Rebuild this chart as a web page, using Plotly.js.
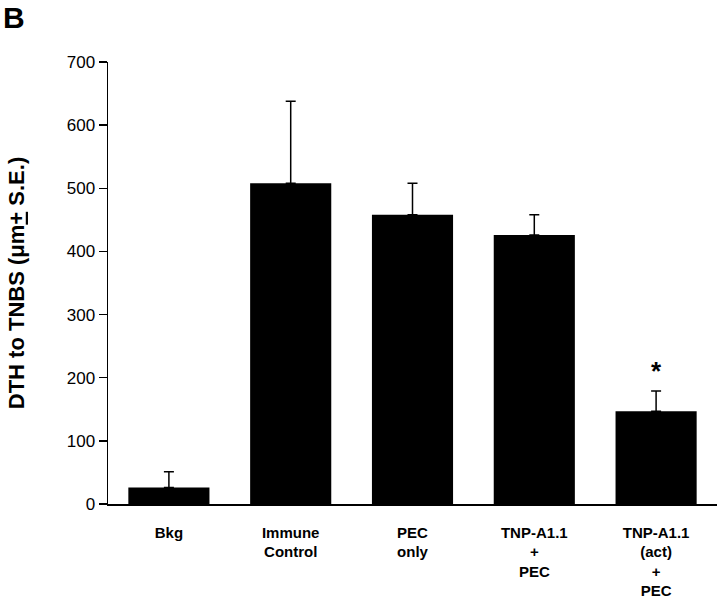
<!DOCTYPE html>
<html>
<head>
<meta charset="utf-8">
<script src="https://cdn.plot.ly/plotly-3.0.1.min.js"></script>
<style>html,body{margin:0;padding:0;background:#fff;}#chart{width:720px;height:601px;}</style>
</head>
<body>
<div id="chart"></div>
<script>
const categories = ['Bkg', 'Immune<br>Control', 'PEC<br>only', 'TNP-A1.1<br>+<br>PEC', 'TNP-A1.1<br>(act)<br>+<br>PEC'];
const means = [26, 508, 458, 426, 147];
const errors = [25, 130, 50, 32, 32];
const yTicks = [0, 100, 200, 300, 400, 500, 600, 700];
const significant = [false, false, false, false, true];

const FONT = '"Liberation Sans", Arial, Helvetica, sans-serif';

const trace = {
  type: 'bar',
  x: categories,
  y: means,
  marker: {color: '#000', line: {width: 0}},
  error_y: {
    type: 'data',
    symmetric: false,
    array: errors,
    arrayminus: errors.map(() => 0),
    color: '#000',
    thickness: 1.5,
    width: 5
  },
  hoverinfo: 'none'
};

const annotations = [{
  text: 'B', xref: 'paper', yref: 'paper',
  x: -0.176, y: 1.142, xanchor: 'left', yanchor: 'top',
  showarrow: false,
  font: {family: FONT, size: 30, color: '#000', weight: 'bold'}
}];
significant.forEach((s, i) => {
  if (s) annotations.push({
    text: '*', x: categories[i], y: means[i] + errors[i],
    xref: 'x', yref: 'y', yanchor: 'bottom', showarrow: false, yshift: 3,
    font: {family: FONT, size: 26, color: '#000', weight: 'bold'}
  });
});

const layout = {
  width: 720, height: 601,
  margin: {l: 108, r: 3, t: 62, b: 97},
  paper_bgcolor: '#fff', plot_bgcolor: '#fff',
  showlegend: false,
  bargap: 0.334,
  font: {family: FONT, color: '#000'},
  xaxis: {
    type: 'category',
    range: [-0.5, 4.5],
    showline: true, linecolor: '#000', linewidth: 1.5,
    ticks: '', showgrid: false, zeroline: false,
    tickfont: {family: FONT, size: 15, color: '#000', weight: 'bold'},
    ticklabelstandoff: 14
  },
  yaxis: {
    range: [0, 700],
    tickvals: yTicks,
    ticktext: yTicks.map(String),
    showline: true, linecolor: '#000', linewidth: 1.5,
    ticks: 'outside', ticklen: 8, tickwidth: 1.5, tickcolor: '#000',
    showgrid: false, zeroline: false,
    tickfont: {family: FONT, size: 17, color: '#000'},
    title: {
      text: 'DTH to TNBS (μm<u>+</u> S.E.)',
      font: {family: FONT, size: 22, color: '#000', weight: 'bold'},
      standoff: 36
    }
  },
  annotations: annotations
};

Plotly.newPlot('chart', [trace], layout, {displayModeBar: false, staticPlot: true});
</script>
</body>
</html>
